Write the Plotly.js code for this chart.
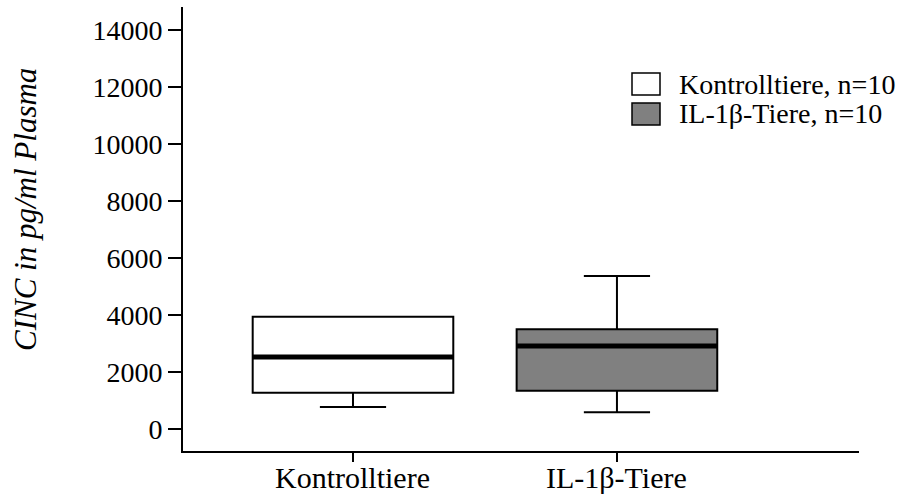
<!DOCTYPE html>
<html>
<head>
<meta charset="utf-8">
<script src="https://cdn.plot.ly/plotly-3.0.1.min.js"></script>
<style>html,body{margin:0;padding:0;background:#fff;}#chart{width:913px;height:495px;}</style>
</head>
<body>
<div id="chart"></div>
<script>
// Data
var categories = ['Kontrolltiere', 'IL-1β-Tiere'];
var legendNames = ['Kontrolltiere, n=10', 'IL-1β-Tiere, n=10'];
var q1 = [1274, 1344];
var medians = [2526, 2912];
var q3 = [3940, 3498];
var lowerFences = [772, 586];
var upperFences = [3940, 5368];
var yTicks = [0, 2000, 4000, 6000, 8000, 10000, 12000, 14000];

var fills = ['#ffffff', '#808080'];
var FONT = 'Liberation Serif, Times New Roman, serif';
var FS_XLAB = 30;
var FS_LEG = 28;
var FS_TITLE = 31;
var FS_TICK = 28;

// plot area in pixels
var L = 183, R = 859, T = 7, B = 451;
function px(xp) { return (xp - L) / (R - L); }
function py(yp) { return (B - yp) / (B - T); }

var traces = [];
categories.forEach(function (c, i) {
  traces.push({
    type: 'box', x: [c], q1: [q1[i]], median: [medians[i]], q3: [q3[i]],
    lowerfence: [lowerFences[i]], upperfence: [upperFences[i]],
    boxpoints: false, width: 0.76, whiskerwidth: 0.33,
    fillcolor: fills[i], line: {color: '#000', width: 2},
    showlegend: false, hoverinfo: 'skip'
  });
  // thick median line
  traces.push({
    type: 'box', x: [c], q1: [medians[i]], median: [medians[i]], q3: [medians[i]],
    lowerfence: [medians[i]], upperfence: [medians[i]],
    boxpoints: false, width: 0.76, whiskerwidth: 0,
    fillcolor: 'rgba(0,0,0,0)', line: {color: '#000', width: 5},
    showlegend: false, hoverinfo: 'skip'
  });
});

var shapes = [];
var annotations = [];
var rowCenters = [84, 114];
legendNames.forEach(function (n, i) {
  shapes.push({
    type: 'rect', xref: 'paper', yref: 'paper',
    x0: px(632), x1: px(660), y0: py(rowCenters[i] + 11), y1: py(rowCenters[i] - 11),
    fillcolor: fills[i], line: {color: '#000', width: 1.5}
  });
  annotations.push({
    xref: 'paper', yref: 'paper', x: px(677), y: py(rowCenters[i]),
    xanchor: 'left', yanchor: 'middle', showarrow: false, text: n,
    font: {family: FONT, size: FS_LEG, color: '#000'}
  });
});
// category labels under the axis
categories.forEach(function (c) {
  annotations.push({
    xref: 'x', yref: 'paper', x: c, y: py(478),
    xanchor: 'center', yanchor: 'middle', showarrow: false, text: c,
    font: {family: FONT, size: FS_XLAB, color: '#000'}
  });
});
annotations.push({
  xref: 'paper', yref: 'paper', x: px(25), y: py(210),
  xanchor: 'center', yanchor: 'middle', showarrow: false, textangle: -90,
  text: '<i>CINC in pg/ml Plasma</i>',
  font: {family: FONT, size: FS_TITLE, color: '#000'}
});

var layout = {
  width: 913, height: 495,
  margin: {l: L, r: 913 - R, t: T, b: 495 - B, pad: 0},
  paper_bgcolor: '#fff', plot_bgcolor: '#fff',
  boxmode: 'overlay',
  showlegend: false,
  font: {family: FONT, size: FS_TICK, color: '#000'},
  xaxis: {
    type: 'category', categoryorder: 'array', categoryarray: categories,
    range: [-0.644, 1.917], showgrid: false, zeroline: false,
    showline: true, linecolor: '#000', linewidth: 2,
    ticks: 'outside', ticklen: 9, tickwidth: 1.5, tickcolor: '#000',
    showticklabels: false
  },
  yaxis: {
    range: [-772, 14807], tickvals: yTicks, tickformat: 'd',
    showgrid: false, zeroline: false,
    showline: true, linecolor: '#000', linewidth: 2,
    ticks: 'outside', ticklen: 13, tickwidth: 2, tickcolor: '#000',
    tickfont: {family: FONT, size: FS_TICK, color: '#000'}
  },
  shapes: shapes,
  annotations: annotations
};

Plotly.newPlot('chart', traces, layout, {displayModeBar: false, staticPlot: true});
</script>
</body>
</html>
